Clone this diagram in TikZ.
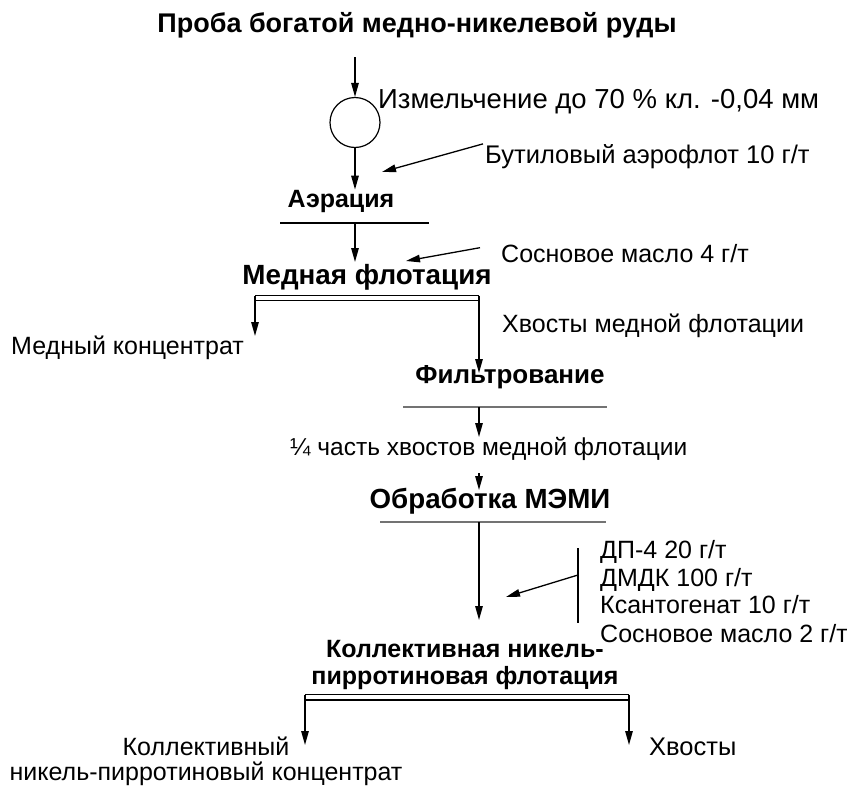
\documentclass[tikz,border=0pt]{standalone}
\usepackage{fontspec}
\setmainfont{Liberation Sans}
\usetikzlibrary{arrows.meta}

\begin{document}
\begin{tikzpicture}[x=1pt,y=-1pt,
  lbl/.style={font=\fontsize{25}{27}\selectfont, inner sep=0pt, anchor=base west},
  stage/.style={font=\fontsize{26}{27}\bfseries\selectfont, inner sep=0pt, anchor=base},
  flow/.style={line width=1.3pt, -{Triangle[length=14pt,width=7.5pt]}},
  bar/.style={line width=1.3pt},
  greybar/.style={line width=1.1pt, draw=black!55},
  twin/.style={line width=1.4pt}
]
\useasboundingbox (0,0) rectangle (847,787);

% ---- stages and labels ----
\node[stage, font=\fontsize{27}{28}\bfseries\selectfont] (title) at (417,32) {Проба богатой медно-никелевой руды};
\node[circle, draw, line width=1.2pt, minimum size=50pt, inner sep=0pt] (mill) at (355,122.5) {};
\node[lbl, font=\fontsize{27.5}{28}\selectfont] (grind) at (378,108) {Измельчение до 70 \% кл. -0,04 мм};
\node[lbl, font=\fontsize{25.5}{27}\selectfont] (butyl) at (485,163) {Бутиловый аэрофлот 10 г/т};
\node[stage, font=\fontsize{25}{27}\bfseries\selectfont] (aer) at (341,207) {Аэрация};
\node[lbl] (pine4) at (501,262) {Сосновое масло 4 г/т};
\node[stage, font=\fontsize{27.8}{28}\bfseries\selectfont] (cuflot) at (367,284) {Медная флотация};
\node[lbl, anchor=base east] (cuconc) at (244,354) {Медный концентрат};
\node[lbl] (cutail) at (502,332) {Хвосты медной флотации};
\node[stage] (filt) at (510,383) {Фильтрование};
\node[lbl, font=\fontsize{24.5}{27}\selectfont] (quarter) at (290,455) {¼ часть хвостов медной флотации};
\node[stage, font=\fontsize{27.7}{28}\bfseries\selectfont] (memi) at (490,508) {Обработка МЭМИ};
\node[lbl] (dp) at (600,558) {ДП-4 20 г/т};
\node[lbl] (dmdk) at (600,586) {ДМДК 100 г/т};
\node[lbl] (xant) at (600,613) {Ксантогенат 10 г/т};
\node[lbl] (pine2) at (600,642) {Сосновое масло 2 г/т};
\node[stage, anchor=north, align=center, font=\fontsize{25}{27}\bfseries\selectfont] (niflot) at (465,640) {Коллективная никель-\\пирротиновая флотация};
\node[lbl, anchor=north, align=center, font=\fontsize{25}{25}\selectfont] (niconc) at (206,737) {Коллективный\\никель-пирротиновый концентрат};
\node[lbl, font=\fontsize{25.5}{27}\selectfont] (tails) at (649,755) {Хвосты};

% ---- free ends of connectors ----
\coordinate (feed) at (355,57);
\coordinate (butend) at (382,172);
\coordinate (aerL) at (280,223);
\coordinate (aerR) at (429,223);
\coordinate (cuin) at (355,262);
\coordinate (pineend) at (406,261);
\coordinate (cuL) at (255,295.5);
\coordinate (cuR) at (479,295.5);
\coordinate (cuLb) at (255,300.5);
\coordinate (cuRb) at (479,300.5);
\coordinate (cuconcend) at (255,336);
\coordinate (filtin) at (479,373);
\coordinate (filtL) at (403,407);
\coordinate (filtR) at (607,407);
\coordinate (qin) at (479,437);
\coordinate (qout) at (479,473);
\coordinate (memiin) at (479,490);
\coordinate (memiL) at (380,522);
\coordinate (memiR) at (606,522);
\coordinate (niin) at (479,620);
\coordinate (brT) at (578,548);
\coordinate (brB) at (578,623);
\coordinate (brM) at (578,575);
\coordinate (reagend) at (506,597);
\coordinate (niL) at (305,694.5);
\coordinate (niR) at (629,694.5);
\coordinate (niLb) at (305,700);
\coordinate (niRb) at (629,700);
\coordinate (niconcend) at (305,745);
\coordinate (tailsend) at (629,745);

% ---- connectors ----
\draw[flow] (feed) -- (mill.north);
\draw[flow] (mill.south) -- (mill.south |- aer.north);
\draw[flow] ([xshift=-2pt]butyl.north west) -- (butend);
\draw[bar] (aerL) -- (aerR);
\draw[flow] (aerL -| cuin) -- (cuin);
\draw[flow] ([xshift=-21pt,yshift=-4pt]pine4.north west) -- (pineend);

\draw[twin] (cuL) -- (cuR);
\draw[twin] (cuLb) -- (cuRb);
\draw[flow] (cuL) -- (cuconcend);
\draw[flow] (cuR) -- (filtin);
\draw[greybar] (filtL) -- (filtR);
\draw[flow] (filtL -| qin) -- (qin);
\draw[flow] (qout) -- (memiin);
\draw[greybar] (memiL) -- (memiR);
\draw[flow] (memiL -| niin) -- (niin);
\draw[bar] (brT) -- (brB);
\draw[flow] (brM) -- (reagend);

\draw[twin] (niL) -- (niR);
\draw[twin] (niLb) -- (niRb);
\draw[flow] (niL) -- (niconcend);
\draw[flow] (niR) -- (tailsend);
\end{tikzpicture}
\end{document}
